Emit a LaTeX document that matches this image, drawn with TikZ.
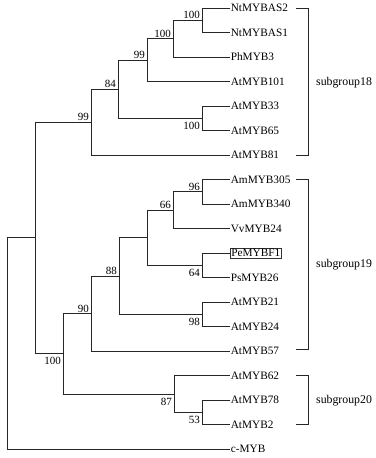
\documentclass[tikz,border=0pt]{standalone}
\usepackage{fontspec}
\setmainfont{Liberation Serif}
\begin{document}
\begin{tikzpicture}[x=1pt,y=-1pt,
  br/.style={line width=0.8pt, draw=black!85},
  brk/.style={line width=1pt, draw=black!85},
  leaf/.style={anchor=west, inner sep=0.6pt, font=\fontsize{11.3}{12}\selectfont, text height=7.5pt, text depth=0pt},
  boxed/.style={leaf, draw=black!80, line width=0.5pt, inner sep=1pt},
  bsa/.style={anchor=south east, inner sep=0pt, font=\fontsize{11}{12}\selectfont, text height=7.4pt, text depth=0pt, xshift=-2pt, yshift=1.2pt},
  bsb/.style={anchor=north east, inner sep=0pt, font=\fontsize{11}{12}\selectfont, text height=7.4pt, text depth=0pt, xshift=-2pt, yshift=-3.5pt},
  grp/.style={anchor=west, inner sep=0pt, font=\fontsize{11.8}{13}\selectfont, text height=7.8pt, text depth=0pt}]
\useasboundingbox (0,0) rectangle (375,458);
% leaves
\coordinate (l1) at (230,8);
\coordinate (l2) at (230,32.5);
\coordinate (l3) at (230,57);
\coordinate (l4) at (230,81.5);
\coordinate (l5) at (230,106);
\coordinate (l6) at (230,130.5);
\coordinate (l7) at (230,155);
\coordinate (l8) at (230,179.5);
\coordinate (l9) at (230,204);
\coordinate (l10) at (230,228.5);
\coordinate (l11) at (230,253);
\coordinate (l12) at (230,277.5);
\coordinate (l13) at (230,302);
\coordinate (l14) at (230,326.5);
\coordinate (l15) at (230,351);
\coordinate (l16) at (230,375.5);
\coordinate (l17) at (230,400);
\coordinate (l18) at (230,424.5);
\coordinate (l19) at (230,449);
\node[leaf] (t1) at (l1) {NtMYBAS2};
\node[leaf] (t2) at (l2) {NtMYBAS1};
\node[leaf] (t3) at (l3) {PhMYB3};
\node[leaf] (t4) at (l4) {AtMYB101};
\node[leaf] (t5) at (l5) {AtMYB33};
\node[leaf] (t6) at (l6) {AtMYB65};
\node[leaf] (t7) at (l7) {AtMYB81};
\node[leaf] (t8) at (l8) {AmMYB305};
\node[leaf] (t9) at (l9) {AmMYB340};
\node[leaf] (t10) at (l10) {VvMYB24};
\node[boxed] (t11) at (l11) {PeMYBF1};
\node[leaf] (t12) at (l12) {PsMYB26};
\node[leaf] (t13) at (l13) {AtMYB21};
\node[leaf] (t14) at (l14) {AtMYB24};
\node[leaf] (t15) at (l15) {AtMYB57};
\node[leaf] (t16) at (l16) {AtMYB62};
\node[leaf] (t17) at (l17) {AtMYB78};
\node[leaf] (t18) at (l18) {AtMYB2};
\node[leaf] (t19) at (l19) {c-MYB};
% internal nodes
\coordinate (a1) at (202,20.25);
\coordinate (a2) at (173,38.6);
\coordinate (a3) at (147,60);
\coordinate (a4) at (202,118.25);
\coordinate (a5) at (118,89.1);
\coordinate (a6) at (91,122);
\coordinate (b1) at (202,191.75);
\coordinate (b2) at (173,210.1);
\coordinate (b3) at (202,265.25);
\coordinate (b4) at (147,237.7);
\coordinate (b5) at (202,314.25);
\coordinate (b6) at (119,276);
\coordinate (b7) at (91,313.5);
\coordinate (c1) at (202,412.25);
\coordinate (c2) at (174,393.9);
\coordinate (d1) at (63,353.7);
\coordinate (e1) at (35,237.8);
\coordinate (r) at (7,343.4);
% branches
\draw[br] (a1) |- (l1); \draw[br] (a1) |- (l2);
\draw[br] (a2) |- (a1); \draw[br] (a2) |- (l3);
\draw[br] (a3) |- (a2); \draw[br] (a3) |- (l4);
\draw[br] (a4) |- (l5); \draw[br] (a4) |- (l6);
\draw[br] (a5) |- (a3); \draw[br] (a5) |- (a4);
\draw[br] (a6) |- (a5); \draw[br] (a6) |- (l7);
\draw[br] (b1) |- (l8); \draw[br] (b1) |- (l9);
\draw[br] (b2) |- (b1); \draw[br] (b2) |- (l10);
\draw[br] (b3) |- (t11.west); \draw[br] (b3) |- (l12);
\draw[br] (b4) |- (b2); \draw[br] (b4) |- (b3);
\draw[br] (b5) |- (l13); \draw[br] (b5) |- (l14);
\draw[br] (b6) |- (b4); \draw[br] (b6) |- (b5);
\draw[br] (b7) |- (b6); \draw[br] (b7) |- (l15);
\draw[br] (c1) |- (l17); \draw[br] (c1) |- (l18);
\draw[br] (c2) |- (l16); \draw[br] (c2) |- (c1);
\draw[br] (d1) |- (b7); \draw[br] (d1) |- (c2);
\draw[br] (e1) |- (a6); \draw[br] (e1) |- (d1);
\draw[br] (r) |- (e1); \draw[br] (r) |- (l19);
% bootstrap values
\node[bsa] (v1) at (a1) {100};
\node[bsa] (v2) at (a2) {100};
\node[bsa] (v3) at (a3) {99};
\node[bsa] (v5) at (a5) {84};
\node[bsa] (v6) at (a6) {99};
\node[bsb] (v4) at (a4) {100};
\node[bsa] (w1) at (b1) {96};
\node[bsa] (w2) at (b2) {66};
\node[bsb] (w3) at (b3) {64};
\node[bsb] (w5) at (b5) {98};
\node[bsa] (w6) at (b6) {88};
\node[bsa] (w7) at (b7) {90};
\node[bsb] (x1) at (c1) {53};
\node[bsb] (x2) at (c2) {87};
\node[bsb] (y1) at (d1) {100};
% subgroup brackets
\coordinate (g18t) at (296,8);
\coordinate (g18b) at (296,155);
\coordinate (g19t) at (296,179.5);
\coordinate (g19b) at (296,349);
\coordinate (g20t) at (296,375.5);
\coordinate (g20b) at (296,424.5);
\draw[brk] (g18t) -- ++(12,0) -- ([xshift=12pt]g18b) -- (g18b);
\draw[brk] (g19t) -- ++(12,0) -- ([xshift=12pt]g19b) -- (g19b);
\draw[brk] (g20t) -- ++(12,0) -- ([xshift=12pt]g20b) -- (g20b);
\node[grp] (s18) at (316,81.5) {subgroup18};
\node[grp] (s19) at (316,264) {subgroup19};
\node[grp] (s20) at (316,400) {subgroup20};
\end{tikzpicture}
\end{document}
